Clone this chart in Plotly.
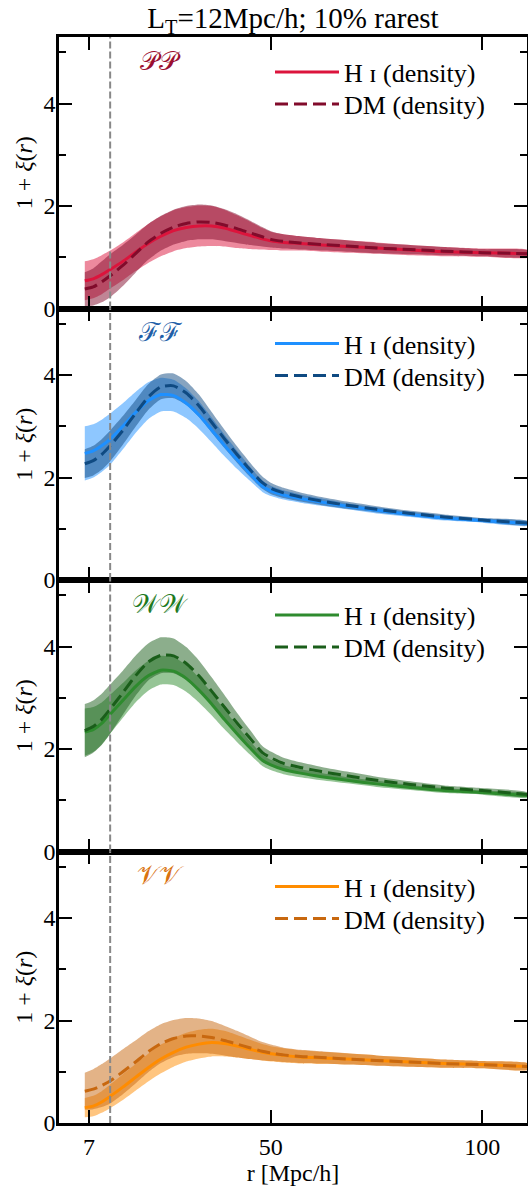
import plotly.graph_objects as go
from plotly.subplots import make_subplots

# ---------------- data ----------------
R = [6, 8, 10, 12, 15, 18, 21, 24, 27, 30, 33, 36, 39, 42, 45, 48, 50, 53, 57, 62, 68, 75, 83, 91, 100, 111]
LT = 12
TITLE = "L<sub>T</sub>=12Mpc/h; 10% rarest"
X_TICKS = [7, 50, 100]
Y_TICKS = [0, 2, 4]
PANEL_LABELS = ["𝒫𝒫", "ℱℱ", "𝒲𝒲", "𝒱𝒱"]
HI_NAME = "H ɪ (density)"
DM_NAME = "DM (density)"

# PP
HI_PP = [0.54, 0.58, 0.66, 0.76, 0.92, 1.10, 1.27, 1.41, 1.52, 1.58, 1.61, 1.61, 1.57, 1.50, 1.43, 1.36, 1.32, 1.29, 1.27, 1.24, 1.21, 1.18, 1.14, 1.11, 1.09, 1.07]
HI_PP_ERR = [0.38, 0.38, 0.38, 0.37, 0.37, 0.37, 0.38, 0.39, 0.40, 0.40, 0.40, 0.39, 0.36, 0.32, 0.27, 0.21, 0.18, 0.16, 0.14, 0.13, 0.12, 0.11, 0.10, 0.09, 0.08, 0.07]
DM_PP = [0.38, 0.42, 0.52, 0.64, 0.84, 1.07, 1.30, 1.47, 1.59, 1.66, 1.69, 1.68, 1.63, 1.56, 1.48, 1.40, 1.35, 1.31, 1.28, 1.25, 1.22, 1.18, 1.15, 1.12, 1.09, 1.07]
DM_PP_ERR = [0.33, 0.36, 0.40, 0.42, 0.40, 0.37, 0.35, 0.34, 0.34, 0.34, 0.34, 0.33, 0.31, 0.28, 0.24, 0.19, 0.16, 0.14, 0.13, 0.12, 0.11, 0.10, 0.09, 0.08, 0.07, 0.06]

# FF
HI_FF = [2.47, 2.52, 2.62, 2.75, 3.00, 3.27, 3.50, 3.62, 3.60, 3.45, 3.22, 2.93, 2.63, 2.35, 2.08, 1.83, 1.74, 1.66, 1.59, 1.52, 1.44, 1.36, 1.28, 1.21, 1.16, 1.10]
HI_FF_ERR = [0.53, 0.52, 0.51, 0.50, 0.45, 0.40, 0.36, 0.33, 0.31, 0.29, 0.27, 0.24, 0.21, 0.18, 0.14, 0.11, 0.10, 0.09, 0.08, 0.07, 0.06, 0.06, 0.05, 0.05, 0.04, 0.04]
DM_FF = [2.27, 2.33, 2.45, 2.62, 2.92, 3.25, 3.57, 3.77, 3.79, 3.65, 3.40, 3.08, 2.76, 2.45, 2.16, 1.90, 1.79, 1.70, 1.62, 1.54, 1.46, 1.38, 1.30, 1.23, 1.17, 1.11]
DM_FF_ERR = [0.28, 0.29, 0.30, 0.30, 0.28, 0.26, 0.25, 0.24, 0.24, 0.23, 0.22, 0.20, 0.18, 0.16, 0.14, 0.12, 0.11, 0.10, 0.09, 0.08, 0.07, 0.06, 0.05, 0.05, 0.04, 0.04]

# WW
HI_WW = [2.33, 2.38, 2.50, 2.68, 2.95, 3.22, 3.43, 3.54, 3.52, 3.38, 3.15, 2.88, 2.58, 2.30, 2.03, 1.78, 1.69, 1.60, 1.53, 1.46, 1.39, 1.32, 1.25, 1.19, 1.15, 1.09]
HI_WW_ERR = [0.46, 0.44, 0.41, 0.38, 0.34, 0.31, 0.29, 0.28, 0.27, 0.26, 0.24, 0.22, 0.19, 0.16, 0.13, 0.11, 0.10, 0.09, 0.08, 0.07, 0.06, 0.06, 0.05, 0.05, 0.04, 0.04]
DM_WW = [2.36, 2.44, 2.58, 2.78, 3.10, 3.43, 3.70, 3.83, 3.82, 3.67, 3.43, 3.13, 2.82, 2.51, 2.22, 1.93, 1.83, 1.72, 1.64, 1.56, 1.48, 1.39, 1.31, 1.24, 1.19, 1.11]
DM_WW_ERR = [0.52, 0.51, 0.50, 0.48, 0.43, 0.39, 0.36, 0.35, 0.34, 0.32, 0.30, 0.27, 0.24, 0.20, 0.16, 0.13, 0.12, 0.11, 0.10, 0.09, 0.08, 0.07, 0.06, 0.05, 0.05, 0.04]

# VV
HI_VV = [0.30, 0.33, 0.41, 0.52, 0.70, 0.89, 1.08, 1.25, 1.38, 1.48, 1.54, 1.57, 1.55, 1.50, 1.44, 1.38, 1.35, 1.32, 1.29, 1.27, 1.25, 1.22, 1.19, 1.16, 1.14, 1.10]
HI_VV_ERR = [0.19, 0.20, 0.21, 0.23, 0.25, 0.26, 0.27, 0.28, 0.28, 0.28, 0.28, 0.27, 0.25, 0.22, 0.19, 0.16, 0.15, 0.14, 0.13, 0.12, 0.11, 0.10, 0.09, 0.08, 0.07, 0.06]
DM_VV = [0.62, 0.66, 0.73, 0.82, 1.00, 1.19, 1.39, 1.55, 1.65, 1.70, 1.70, 1.67, 1.61, 1.54, 1.47, 1.40, 1.37, 1.33, 1.30, 1.28, 1.25, 1.22, 1.19, 1.16, 1.14, 1.10]
DM_VV_ERR = [0.36, 0.39, 0.42, 0.44, 0.44, 0.42, 0.40, 0.38, 0.36, 0.35, 0.34, 0.32, 0.29, 0.26, 0.22, 0.18, 0.16, 0.14, 0.13, 0.12, 0.11, 0.10, 0.09, 0.08, 0.07, 0.06]

HI_SERIES = [(HI_PP, HI_PP_ERR), (HI_FF, HI_FF_ERR), (HI_WW, HI_WW_ERR), (HI_VV, HI_VV_ERR)]
DM_SERIES = [(DM_PP, DM_PP_ERR), (DM_FF, DM_FF_ERR), (DM_WW, DM_WW_ERR), (DM_VV, DM_VV_ERR)]

HI_COLORS = ["#DC143C", "#1E90FF", "#2E8B2E", "#FF8C00"]
DM_COLORS = ["#810B2B", "#0F4A82", "#1A5E1A", "#C8680F"]
LABEL_COLORS = ["#9B0F30", "#1F5FA8", "#1E7A1E", "#D9730F"]

FONT = "Liberation Serif, DejaVu Serif, serif"
W, H = 528, 1191
M_L, M_R, M_T, M_B = 59, 1, 37, 68


def rgba(hexc, a):
    h = hexc.lstrip("#")
    r, g, b = int(h[0:2], 16), int(h[2:4], 16), int(h[4:6], 16)
    return f"rgba({r},{g},{b},{a})"


fig = make_subplots(rows=4, cols=1, shared_xaxes=True, vertical_spacing=0)

plot_h = H - M_T - M_B
panel_px = plot_h / 4.0

for i in range(4):
    row = i + 1
    leg_hi = f"legend{2 * i + 1}" if i > 0 else "legend"
    leg_dm = f"legend{2 * i + 2}"
    hi, hie = HI_SERIES[i]
    dm, dme = DM_SERIES[i]
    for (vals, errs, col) in [(hi, hie, HI_COLORS[i]), (dm, dme, DM_COLORS[i])]:
        upper = [v + e for v, e in zip(vals, errs)]
        lower = [v - e for v, e in zip(vals, errs)]
        fig.add_trace(go.Scatter(
            x=R + R[::-1], y=upper + lower[::-1], fill="toself",
            fillcolor=rgba(col, 0.5), line=dict(width=0, shape="spline", smoothing=0.6),
            mode="lines", showlegend=False, hoverinfo="skip"), row=row, col=1)
    fig.add_trace(go.Scatter(
        x=R, y=hi, mode="lines", name=HI_NAME, legend=leg_hi,
        line=dict(color=HI_COLORS[i], width=3, shape="spline", smoothing=0.6)), row=row, col=1)
    fig.add_trace(go.Scatter(
        x=R, y=dm, mode="lines", name=DM_NAME, legend=leg_dm,
        line=dict(color=DM_COLORS[i], width=3, dash="13px,6px", shape="spline", smoothing=0.6)), row=row, col=1)

    fig.add_vline(x=LT, line=dict(color="#888888", width=2, dash="7px,3px"), layer="above", row=row, col=1)

    fig.add_annotation(
        text=PANEL_LABELS[i], xref="x domain" if i == 0 else f"x{row} domain",
        yref="y domain" if i == 0 else f"y{row} domain",
        x=0.216, y=0.912, xanchor="center", yanchor="middle", showarrow=False,
        font=dict(size=26, color=LABEL_COLORS[i], family="DejaVu Serif, serif"))

    # legends: one entry each, placed in the panel's upper right
    top_px = i * panel_px
    for key, off in [(leg_hi, 35), (leg_dm, 67)]:
        fig.update_layout(**{key: dict(
            x=(270 - M_L) / (W - M_L - M_R), y=1 - (top_px + off) / plot_h,
            xanchor="left", yanchor="middle",
            bgcolor="rgba(0,0,0,0)", borderwidth=0,
            font=dict(size=26, family=FONT, color="black"),
            itemwidth=64,
        )})

axis_common = dict(
    showline=True, linewidth=2.5, linecolor="black", mirror="allticks",
    ticks="inside", ticklen=13, tickwidth=2, tickcolor="black",
    showgrid=False, zeroline=False, automargin=False,
    tickfont=dict(size=24, family=FONT, color="black"),
)

for i in range(4):
    row = i + 1
    fig.update_xaxes(range=[-0.1, 110.6], tickmode="array", tickvals=X_TICKS,
                     **axis_common, row=row, col=1)
    fig.update_yaxes(range=[0, 5.3], tickmode="array", tickvals=Y_TICKS,
                     minor=dict(tickvals=[1, 3, 5], ticks="inside", ticklen=7, tickwidth=2, tickcolor="black"),
                     ticklabelstandoff=-4,
                     title=dict(text="1 + <i>ξ</i>(<i>r</i>)", font=dict(size=24, family=FONT), standoff=5),
                     **axis_common, row=row, col=1)

fig.update_xaxes(title=dict(text="r [Mpc/h]", font=dict(size=24, family=FONT), standoff=4), row=4, col=1)

fig.update_layout(
    width=W, height=H, autosize=False,
    margin=dict(l=M_L, r=M_R, t=M_T, b=M_B),
    paper_bgcolor="white", plot_bgcolor="white",
    font=dict(family=FONT, color="black", size=24),
    title=dict(text=TITLE, x=0.5, xref="paper", xanchor="center",
               y=1 - 18 / H, yref="container", yanchor="middle",
               font=dict(size=29, family=FONT, color="black")),
    showlegend=True,
)

post = (
    "document.body.style.margin='0';"
    "document.body.style.padding='0';"
    "document.body.style.overflow='hidden';"
    "document.documentElement.style.overflow='hidden';"
    "Plotly.relayout('{plot_id}', {width: %d, height: %d});" % (W, H)
)

fig.write_html("out.html", config={"responsive": False, "displayModeBar": False}, post_script=post)
